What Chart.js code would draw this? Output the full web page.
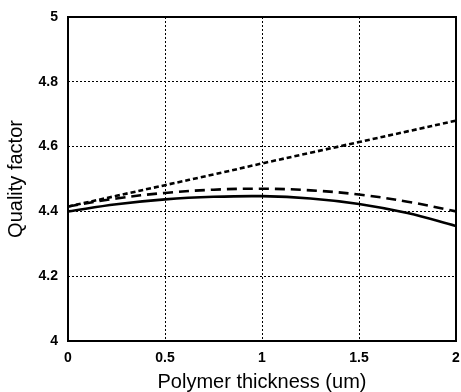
<!DOCTYPE html>
<html>
<head>
<meta charset="utf-8">
<script src="https://cdn.jsdelivr.net/npm/chart.js@4/dist/chart.umd.min.js"></script>
<style>
  html, body { margin: 0; padding: 0; background: #fff; }
  #wrap { width: 461px; height: 392px; }
</style>
</head>
<body>
<div id="wrap"><canvas id="myChart"></canvas></div>
<script>
// values
const thickness = [0, 0.25, 0.5, 0.75, 1, 1.25, 1.5, 1.75, 2];
const qualitySolid = [4.400, 4.422, 4.437, 4.445, 4.447, 4.440, 4.423, 4.395, 4.355];
const qualityDashed = [4.415, 4.440, 4.457, 4.467, 4.470, 4.465, 4.452, 4.430, 4.400];
const qualityDotted = [4.415, 4.448, 4.481, 4.514, 4.548, 4.581, 4.614, 4.647, 4.680];
const xTickLabels = ["0", "0.5", "1", "1.5", "2"];
const yTickLabels = ["4", "4.2", "4.4", "4.6", "4.8", "5"];

const toPoints = (ys) => thickness.map((x, i) => ({ x: x, y: ys[i] }));

// solid frame round the plot area
const frame = {
  id: "frame",
  afterDraw(chart) {
    const { ctx, chartArea: a } = chart;
    ctx.save();
    ctx.strokeStyle = "#000";
    ctx.lineWidth = 2;
    ctx.strokeRect(a.left, a.top, a.right - a.left, a.bottom - a.top);
    ctx.restore();
  },
};

const tickFont = { family: "Liberation Sans, Arial, sans-serif", size: 14, weight: "bold" };
const titleFont = { family: "Liberation Sans, Arial, sans-serif", size: 20, lineHeight: 1 };

const ctx = document.getElementById("myChart").getContext("2d");
new Chart(ctx, {
  type: "line",
  data: {
    datasets: [
      {
        data: toPoints(qualitySolid),
        borderColor: "#000",
        borderWidth: 2.6,
        tension: 0.4,
        pointRadius: 0,
      },
      {
        data: toPoints(qualityDashed),
        borderColor: "#000",
        borderWidth: 2.6,
        borderDash: [10, 6],
        tension: 0.4,
        pointRadius: 0,
      },
      {
        data: toPoints(qualityDotted),
        borderColor: "#000",
        borderWidth: 2.6,
        borderDash: [5, 3],
        tension: 0.4,
        pointRadius: 0,
      },
    ],
  },
  options: {
    responsive: true,
    maintainAspectRatio: false,
    animation: false,
    layout: { padding: { top: 17, right: 5, left: 0, bottom: 0 } },
    plugins: { legend: { display: false }, tooltip: { enabled: false } },
    scales: {
      x: {
        type: "linear",
        min: 0,
        max: 2,
        afterFit: (s) => { s.height = 51; s.paddingRight = 0; s.paddingLeft = 0; },
        afterBuildTicks: (s) => { s.ticks = xTickLabels.map((t) => ({ value: +t })); },
        ticks: {
          color: "#000",
          font: tickFont,
          padding: 9,
          maxRotation: 0,
          callback: (v, i) => xTickLabels[i],
        },
        grid: { color: "#000", lineWidth: 1, drawTicks: false },
        border: { display: false, dash: [2, 2] },
        title: {
          display: true,
          text: "Polymer thickness (um)",
          color: "#000",
          font: titleFont,
          padding: { top: 0, bottom: 0 },
        },
      },
      y: {
        min: 4,
        max: 5,
        afterFit: (s) => { s.width = 68; s.paddingTop = 0; s.paddingBottom = 0; },
        afterBuildTicks: (s) => { s.ticks = yTickLabels.map((t) => ({ value: +t })); },
        ticks: {
          color: "#000",
          font: tickFont,
          padding: 10,
          callback: (v, i) => yTickLabels[i],
        },
        grid: { color: "#000", lineWidth: 1, drawTicks: false },
        border: { display: false, dash: [2, 2] },
        title: {
          display: true,
          text: "Quality factor",
          color: "#000",
          font: titleFont,
          padding: { top: 6, bottom: 0 },
        },
      },
    },
  },
  plugins: [frame],
});
</script>
</body>
</html>
